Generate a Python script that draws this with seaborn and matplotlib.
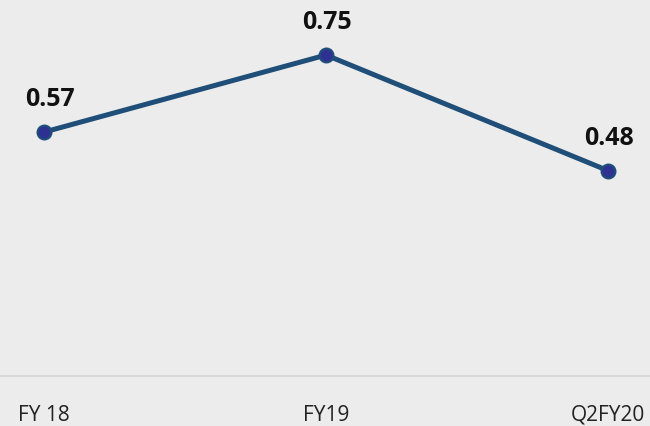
import matplotlib
matplotlib.use("Agg")
import matplotlib.pyplot as plt
import seaborn as sns
import pandas as pd

periods = ["FY 18", "FY19", "Q2FY20"]
values = [0.57, 0.75, 0.48]
labels = ["0.57", "0.75", "0.48"]

sns.set_theme(style="white")
plt.rcParams['font.family'] = ['Open Sans', 'DejaVu Sans']

df = pd.DataFrame({"period": periods, "value": values, "x": range(len(periods))})

fig = plt.figure(figsize=(6.5, 4.27), dpi=100)
fig.patch.set_facecolor("#ececec")
ax = fig.add_axes([0, 0.117, 1, 0.883])
ax.set_facecolor("#ececec")

sns.lineplot(data=df, x="x", y="value", ax=ax, color="#1f4e79", linewidth=3.6,
             marker="o", markersize=10, markerfacecolor="#2e3192",
             markeredgecolor="#1f4e79", markeredgewidth=1.5)

for xi, v, lab in zip(df["x"], values, labels):
    ax.annotate(lab, (xi, v), xytext=(4 if xi == 0 else 1, 24), textcoords="offset points",
                ha="center", va="center", fontsize=18, fontweight="bold", color="#111111")

ax.set_xticks(list(df["x"]))
ax.set_xticklabels(periods, fontsize=15, color="#222222")
ax.set_xlim(-0.156, 2.149)
ax.set_ylim(0, 0.881)
ax.tick_params(axis="x", length=0, pad=20)
ax.set_yticks([])
ax.set_xlabel("")
ax.set_ylabel("")
for s in ["top", "left", "right"]:
    ax.spines[s].set_visible(False)
ax.spines["bottom"].set_color("#d6d6d6")
ax.spines["bottom"].set_linewidth(1.2)

fig.savefig("out.png", dpi=100, facecolor=fig.get_facecolor())
